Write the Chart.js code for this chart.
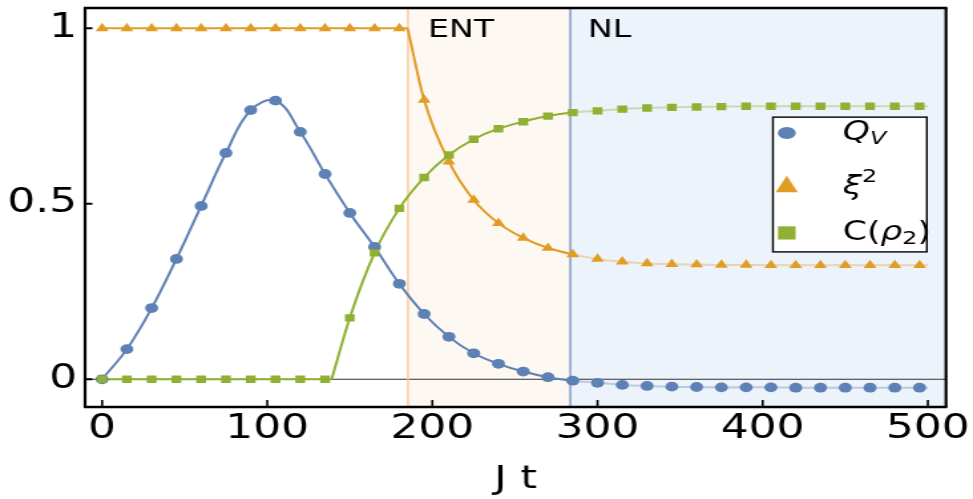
<!DOCTYPE html>
<html>
<head>
<meta charset="utf-8">
<script src="https://cdn.jsdelivr.net/npm/chart.js@4.4.1/dist/chart.umd.min.js"></script>
<style>
  html, body { margin: 0; padding: 0; background: #fff; overflow: hidden; }
  /* the reference is horizontally stretched, so draw narrow and stretch */
  #wrap { width: 732px; height: 499px; transform: scaleX(1.3292); transform-origin: 0 0; }
</style>
</head>
<body>
<div id="wrap"><canvas id="chart" width="732" height="499"></canvas></div>
<script>
// sample times of the markers
const tMarks = [0, 15, 30, 45, 60, 75, 90, 105, 120, 135, 150, 165, 180, 195, 210, 225, 240,
  255, 270, 285, 300, 315, 330, 345, 360, 375, 390, 405, 420, 435, 450, 465, 480, 495]

const qV = [0, 0.086, 0.203, 0.343, 0.494, 0.645, 0.767, 0.794, 0.705, 0.585, 0.474, 0.377,
  0.272, 0.186, 0.121, 0.074, 0.044, 0.022, 0.006, -0.004, -0.010, -0.016, -0.019, -0.021,
  -0.022, -0.023, -0.023, -0.023, -0.024, -0.024, -0.024, -0.024, -0.024, -0.024]

const xi2 = [1, 1, 1, 1, 1, 1, 1, 1, 1, 1, 1, 1, 1, 0.796, 0.62, 0.511, 0.445, 0.403, 0.374,
  0.356, 0.343, 0.335, 0.330, 0.328, 0.327, 0.326, 0.326, 0.325, 0.325, 0.325, 0.325, 0.325,
  0.325, 0.325]

const cRho = [0, 0, 0, 0, 0, 0, 0, 0, 0, 0, 0.175, 0.36, 0.487, 0.575, 0.639, 0.684, 0.714,
  0.734, 0.750, 0.760, 0.765, 0.770, 0.773, 0.775, 0.776, 0.777, 0.778, 0.778, 0.778, 0.778,
  0.778, 0.778, 0.778, 0.778]

// where the continuous curves bend, and where they end
const xiKink = [185, 1]
const cKink = [139, 0]
const lineEnd = [500, -0.024, 0.325, 0.778]  // t, qV, xi2, cRho

const entStart = 185.2
const nlStart = 283.5

const xTicks = [0, 100, 200, 300, 400, 500]
const yTicks = [0, 0.5, 1]

const FONT = '"DejaVu Sans", sans-serif'
const BLUE = '#5e81b5', ORANGE = '#e19c24', GREEN = '#8fb032'
const BLUE_F = 'rgba(94,129,181,0.35)', ORANGE_F = 'rgba(225,156,36,0.35)', GREEN_F = 'rgba(143,176,50,0.35)'

const pts = (ys) => tMarks.map((t, i) => ({ x: t, y: ys[i] }))
const fade = (full, faded) => ctx => ctx.p0.parsed.x >= nlStart - 1 ? faded : full

const qLine = pts(qV).concat([{ x: lineEnd[0], y: lineEnd[1] }])
const xiFlat = pts(xi2).filter(p => p.x < xiKink[0]).concat([{ x: xiKink[0], y: xiKink[1] }])
const xiCurve = [{ x: xiKink[0], y: xiKink[1] }].concat(pts(xi2).filter(p => p.x > xiKink[0]), [{ x: lineEnd[0], y: lineEnd[2] }])
const cFlat = pts(cRho).filter(p => p.x < cKink[0]).concat([{ x: cKink[0], y: cKink[1] }])
const cCurve = [{ x: cKink[0], y: cKink[1] }].concat(pts(cRho).filter(p => p.x > cKink[0]), [{ x: lineEnd[0], y: lineEnd[3] }])

const lineSet = (data, color, faded, extra) => Object.assign({
  data: data, showLine: true, pointRadius: 0, borderColor: color, borderWidth: 2,
  fill: false, segment: { borderColor: fade(color, faded) }, order: 5
}, extra)

const markSet = (data, style, radius, color, order) => ({
  data: data, showLine: false, pointStyle: style, pointRadius: radius, pointHoverRadius: radius,
  backgroundColor: color, borderWidth: 0, order: order
})

// shaded regions, region lines, zero line and region names
const regions = {
  id: 'regions',
  beforeDatasetsDraw(chart) {
    const { ctx, chartArea: a, scales: { x, y } } = chart
    const xe = x.getPixelForValue(entStart), xn = x.getPixelForValue(nlStart)
    ctx.save()
    ctx.fillStyle = '#fef8f3'
    ctx.fillRect(xe, a.top, xn - xe, a.bottom - a.top)
    ctx.fillStyle = '#ecf3fa'
    ctx.fillRect(xn, a.top, a.right - xn, a.bottom - a.top)

    ctx.lineWidth = 1
    ctx.strokeStyle = '#333'
    const y0 = y.getPixelForValue(0)
    ctx.beginPath(); ctx.moveTo(a.left, y0); ctx.lineTo(a.right, y0); ctx.stroke()

    ctx.lineWidth = 1.3
    ctx.strokeStyle = '#f8c48f'
    ctx.beginPath(); ctx.moveTo(xe, a.top); ctx.lineTo(xe, a.bottom); ctx.stroke()
    ctx.strokeStyle = '#6f90c6'
    ctx.beginPath(); ctx.moveTo(xn, a.top); ctx.lineTo(xn, a.bottom); ctx.stroke()

    ctx.fillStyle = '#000'
    ctx.font = '25px ' + FONT
    ctx.textBaseline = 'alphabetic'
    ctx.fillText('ENT', x.getPixelForValue(197.3), y.getPixelForValue(0.975))
    ctx.fillText('NL', x.getPixelForValue(294.2), y.getPixelForValue(0.975))
    ctx.restore()
  }
}

function rich(ctx, parts, x, y) {
  // parts: [text, italic, size, shift]
  for (const [txt, it, size, shift] of parts) {
    ctx.font = (it ? 'italic ' : '') + size + 'px ' + FONT
    ctx.fillText(txt, x, y + shift)
    x += ctx.measureText(txt).width
  }
}

// frame with inward ticks, and the legend box
const frame = {
  id: 'frame',
  afterDraw(chart) {
    const { ctx, chartArea: a, scales: { x, y } } = chart
    ctx.save()
    ctx.strokeStyle = '#000'
    ctx.lineWidth = 2.5
    ctx.beginPath()
    ctx.moveTo(a.left - 1, a.top); ctx.lineTo(a.right + 1, a.top)
    ctx.moveTo(a.left - 1, a.bottom); ctx.lineTo(a.right + 1, a.bottom)
    ctx.stroke()
    ctx.lineWidth = 2.2
    ctx.beginPath()
    ctx.moveTo(a.left, a.top); ctx.lineTo(a.left, a.bottom)
    ctx.moveTo(a.right, a.top); ctx.lineTo(a.right, a.bottom)
    ctx.stroke()

    ctx.lineWidth = 1.6
    ctx.beginPath()
    xTicks.forEach(v => {
      const px = x.getPixelForValue(v)
      ctx.moveTo(px, a.bottom); ctx.lineTo(px, a.bottom - 7)
    })
    ctx.stroke()
    ctx.lineWidth = 2
    ctx.beginPath()
    yTicks.forEach(v => {
      const py = y.getPixelForValue(v)
      ctx.moveTo(a.left, py); ctx.lineTo(a.left + 5.5, py)
    })
    ctx.stroke()

    // legend
    const lx0 = x.getPixelForValue(406.2), lx1 = x.getPixelForValue(499.4)
    const ly0 = y.getPixelForValue(0.747), ly1 = y.getPixelForValue(0.363)
    ctx.fillStyle = '#fff'
    ctx.fillRect(lx0, ly0, lx1 - lx0, ly1 - ly0)
    ctx.lineWidth = 1.4
    ctx.strokeRect(lx0, ly0, lx1 - lx0, ly1 - ly0)

    const mx = x.getPixelForValue(414.6), tx = x.getPixelForValue(448.5)
    const r1 = y.getPixelForValue(0.702), r2 = y.getPixelForValue(0.554), r3 = y.getPixelForValue(0.417)
    ctx.fillStyle = BLUE
    ctx.beginPath(); ctx.ellipse(mx, r1, 6.8, 6, 0, 0, Math.PI * 2); ctx.fill()
    ctx.fillStyle = ORANGE
    ctx.beginPath()
    ctx.moveTo(mx, r2 - 9); ctx.lineTo(mx + 8.3, r2 + 7.5); ctx.lineTo(mx - 8.3, r2 + 7.5)
    ctx.closePath(); ctx.fill()
    ctx.fillStyle = GREEN
    ctx.fillRect(mx - 6.6, r3 - 6.6, 13.2, 13.2)

    ctx.fillStyle = '#000'
    ctx.textBaseline = 'middle'
    rich(ctx, [['Q', true, 26, 0], ['V', true, 18, 6]], tx, r1)
    rich(ctx, [['\u03BE', true, 26, 2], ['2', false, 18, -8]], tx, r2)
    rich(ctx, [['C(', false, 26, 0], ['\u03C1', true, 26, 0], ['2', false, 18, 6], [')', false, 26, 0]], tx, r3)
    ctx.restore()
  }
}

new Chart(document.getElementById('chart'), {
  type: 'scatter',
  data: {
    datasets: [
      markSet(pts(cRho), 'rect', 5.2, GREEN, 0),
      markSet(pts(xi2), 'triangle', 5.6, ORANGE, 1),
      markSet(pts(qV), 'circle', 4.9, BLUE, 2),
      lineSet(cFlat, GREEN, GREEN_F, { order: 3 }),
      lineSet(cCurve, GREEN, GREEN_F, { order: 3, cubicInterpolationMode: 'monotone' }),
      lineSet(xiFlat, ORANGE, ORANGE_F, { order: 4 }),
      lineSet(xiCurve, ORANGE, ORANGE_F, { order: 4, cubicInterpolationMode: 'monotone' }),
      lineSet(qLine, BLUE, BLUE_F, { order: 5, tension: 0.4 })
    ]
  },
  options: {
    responsive: false,
    devicePixelRatio: 1,
    animation: false,
    layout: { padding: { left: 0, right: 20.3, top: 8, bottom: 0 } },
    plugins: { legend: { display: false }, tooltip: { enabled: false } },
    scales: {
      x: {
        type: 'linear',
        min: -10.3,
        max: 511,
        afterBuildTicks: s => { s.ticks = xTicks.map(v => ({ value: v })) },
        afterFit: s => { s.height = 92; s.paddingLeft = 0; s.paddingRight = 0 },
        grid: { display: false, drawTicks: false },
        border: { display: false },
        ticks: {
          font: { family: FONT, size: 33 },
          color: '#000',
          padding: 3,
          maxRotation: 0,
          autoSkip: false,
          callback: v => String(v)
        },
        title: {
          display: true,
          text: 'J t',
          font: { family: FONT, size: 32 },
          color: '#000',
          padding: { top: 0, bottom: 0 }
        }
      },
      y: {
        type: 'linear',
        min: -0.079,
        max: 1.058,
        afterBuildTicks: s => { s.ticks = yTicks.map(v => ({ value: v })) },
        afterFit: s => { s.width = 64; s.paddingTop = 0; s.paddingBottom = 0 },
        grid: { display: false, drawTicks: false },
        border: { display: false },
        ticks: {
          font: { family: FONT, size: 33 },
          color: '#000',
          padding: 6,
          callback: v => String(v)
        }
      }
    }
  },
  plugins: [regions, frame]
})
</script>
</body>
</html>
